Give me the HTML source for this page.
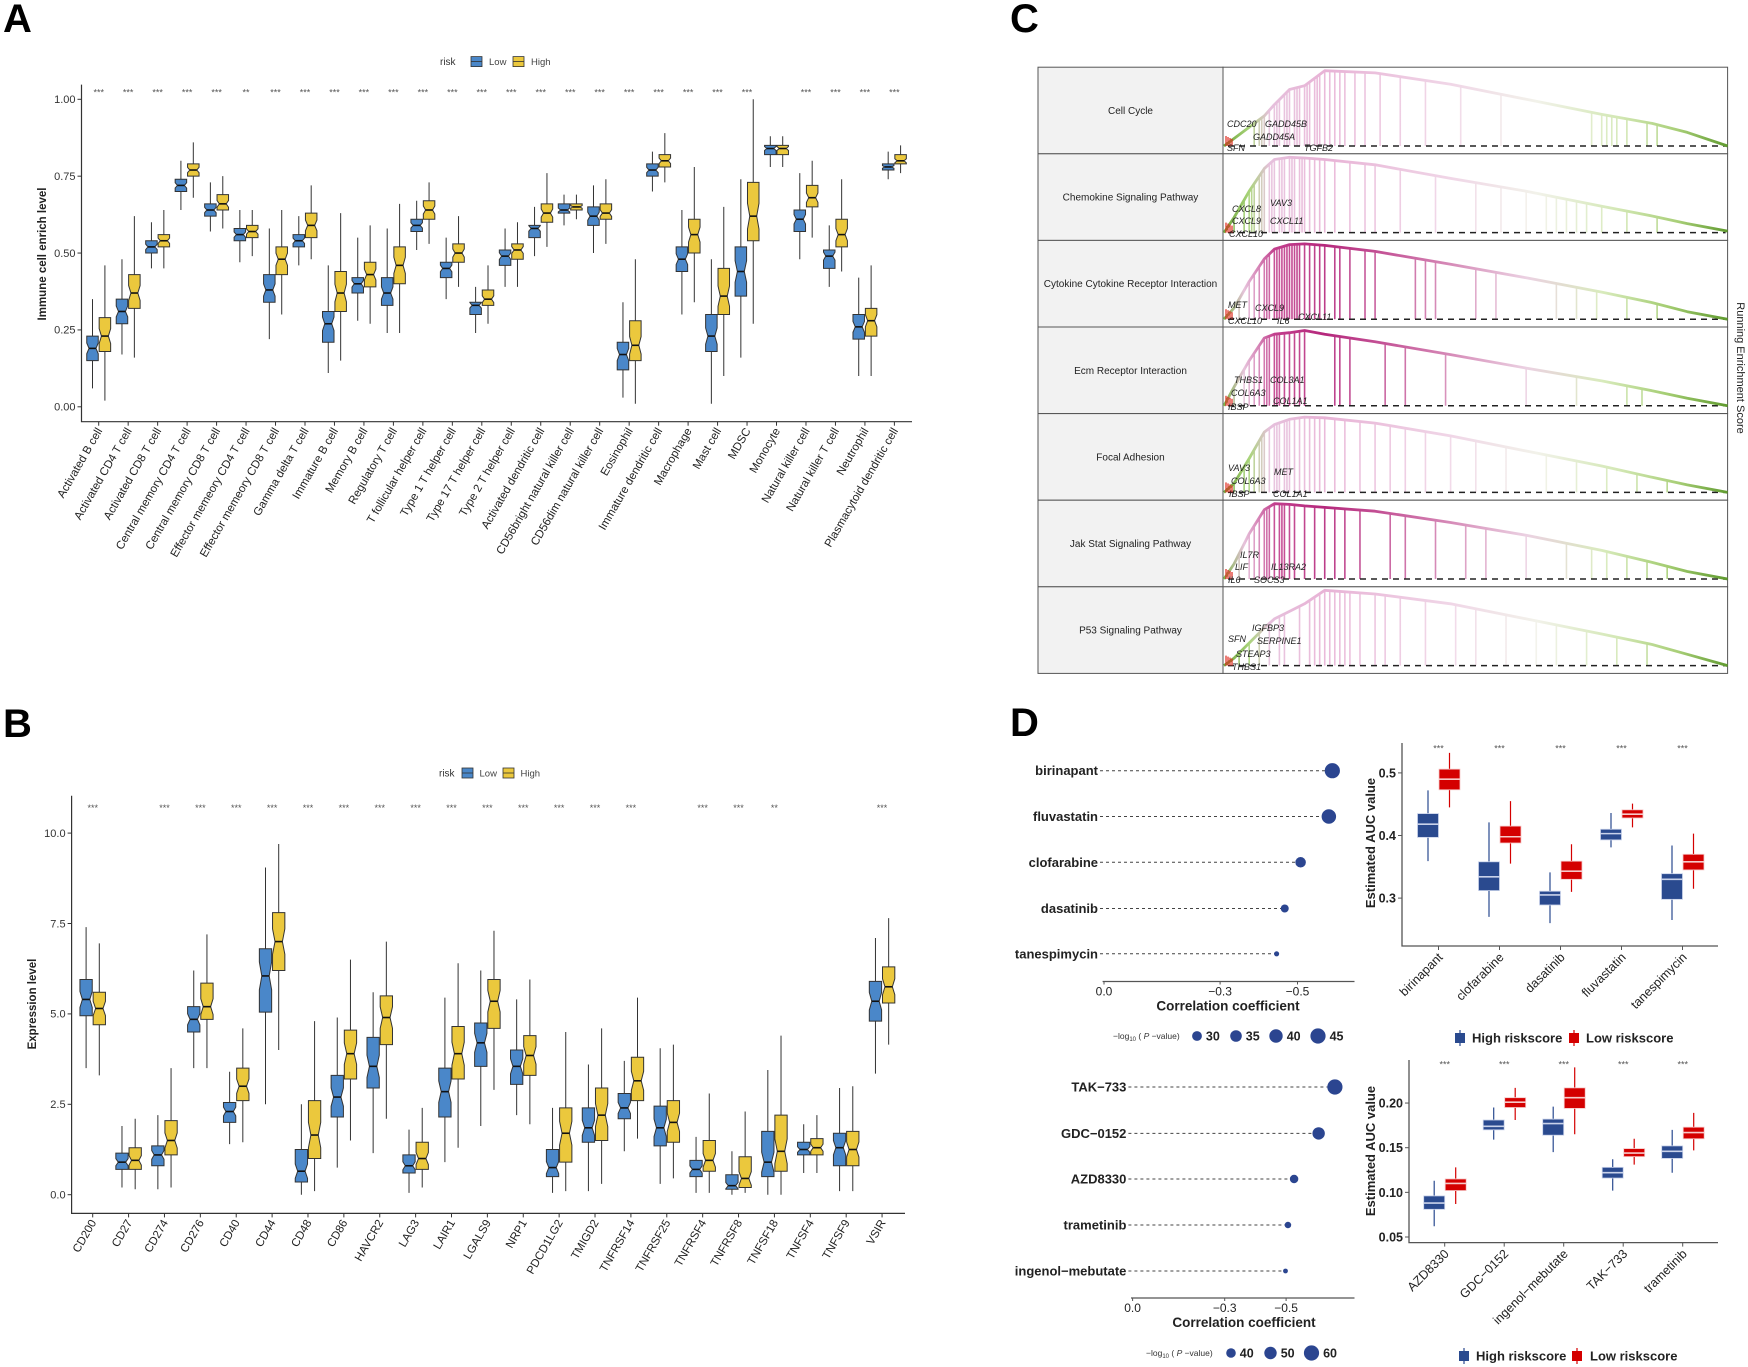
<!DOCTYPE html>
<html><head><meta charset="utf-8"><title>Figure</title>
<style>html,body{margin:0;padding:0;background:#fff}svg{display:block}</style></head>
<body>
<svg id="fig" width="1748" height="1367" viewBox="0 0 1748 1367" xmlns="http://www.w3.org/2000/svg" font-family="Liberation Sans, Arial, sans-serif">
<defs>
<linearGradient id="gLight" gradientUnits="userSpaceOnUse" x1="1224" y1="0" x2="1728" y2="0">
<stop offset="0" stop-color="#6da53a"/><stop offset="0.05" stop-color="#a9d47a"/><stop offset="0.09" stop-color="#e6c0dc"/><stop offset="0.2" stop-color="#e8b3d6"/><stop offset="0.45" stop-color="#f0d6e7"/><stop offset="0.62" stop-color="#f2f2ea"/><stop offset="0.78" stop-color="#d4e8b6"/><stop offset="0.9" stop-color="#a9cf78"/><stop offset="1" stop-color="#5f9a2e"/></linearGradient>
<linearGradient id="gDeep" gradientUnits="userSpaceOnUse" x1="1224" y1="0" x2="1728" y2="0">
<stop offset="0" stop-color="#7cb548"/><stop offset="0.04" stop-color="#e7c3dc"/><stop offset="0.1" stop-color="#c23f8d"/><stop offset="0.2" stop-color="#b5287c"/><stop offset="0.4" stop-color="#cf74aa"/><stop offset="0.6" stop-color="#ebd1e2"/><stop offset="0.75" stop-color="#d9ebbd"/><stop offset="0.88" stop-color="#a4cd72"/><stop offset="1" stop-color="#5f9a2e"/></linearGradient>
</defs>
</svg>
<script>
// ---------- Panel A data ----------
const A_cats = ['Activated B cell','Activated CD4 T cell','Activated CD8 T cell','Central memory CD4 T cell','Central memory CD8 T cell','Effector memeory CD4 T cell','Effector memeory CD8 T cell','Gamma delta T cell','Immature  B cell','Memory B cell','Regulatory T cell','T follicular helper cell','Type 1 T helper cell','Type 17 T helper cell','Type 2 T helper cell','Activated dendritic cell','CD56bright natural killer cell','CD56dim natural killer cell','Eosinophil','Immature dendritic cell','Macrophage','Mast cell','MDSC','Monocyte','Natural killer cell','Natural killer T cell','Neutrophil','Plasmacytoid dendritic cell'];
const A_low = [[0.06,0.15,0.19,0.23,0.35],[0.17,0.27,0.31,0.35,0.48],[0.45,0.50,0.52,0.54,0.60],[0.64,0.70,0.72,0.74,0.80],[0.57,0.62,0.64,0.66,0.73],[0.47,0.54,0.56,0.58,0.64],[0.22,0.34,0.38,0.43,0.58],[0.46,0.52,0.54,0.56,0.62],[0.11,0.21,0.27,0.31,0.46],[0.28,0.37,0.40,0.42,0.55],[0.24,0.33,0.37,0.42,0.58],[0.51,0.57,0.59,0.61,0.67],[0.35,0.42,0.45,0.47,0.55],[0.24,0.30,0.33,0.34,0.39],[0.39,0.46,0.49,0.51,0.58],[0.49,0.55,0.58,0.59,0.65],[0.59,0.63,0.64,0.66,0.69],[0.50,0.59,0.62,0.65,0.72],[0.03,0.12,0.17,0.21,0.34],[0.70,0.75,0.77,0.79,0.83],[0.30,0.44,0.48,0.52,0.64],[0.01,0.18,0.23,0.30,0.48],[0.16,0.36,0.44,0.52,0.74],[0.78,0.82,0.84,0.85,0.88],[0.48,0.57,0.61,0.64,0.76],[0.39,0.45,0.49,0.51,0.59],[0.10,0.22,0.26,0.30,0.42],[0.74,0.77,0.78,0.79,0.83]];
const A_high = [[0.02,0.18,0.23,0.29,0.46],[0.16,0.32,0.37,0.43,0.62],[0.45,0.52,0.54,0.56,0.64],[0.68,0.75,0.77,0.79,0.86],[0.58,0.64,0.66,0.69,0.75],[0.49,0.55,0.57,0.59,0.64],[0.30,0.43,0.48,0.52,0.64],[0.48,0.55,0.59,0.63,0.72],[0.15,0.31,0.37,0.44,0.63],[0.27,0.39,0.43,0.47,0.59],[0.24,0.40,0.46,0.52,0.66],[0.53,0.61,0.64,0.67,0.73],[0.39,0.47,0.50,0.53,0.62],[0.27,0.33,0.35,0.38,0.46],[0.39,0.48,0.51,0.53,0.60],[0.52,0.60,0.63,0.66,0.76],[0.61,0.64,0.65,0.66,0.69],[0.53,0.61,0.63,0.66,0.74],[0.01,0.15,0.20,0.28,0.48],[0.73,0.78,0.80,0.82,0.89],[0.34,0.50,0.56,0.61,0.78],[0.10,0.30,0.36,0.45,0.65],[0.27,0.54,0.62,0.73,1.00],[0.78,0.82,0.84,0.85,0.88],[0.55,0.65,0.68,0.72,0.80],[0.44,0.52,0.56,0.61,0.74],[0.10,0.23,0.28,0.32,0.46],[0.76,0.79,0.80,0.82,0.85]];
const A_sig = ['***','***','***','***','***','**','***','***','***','***','***','***','***','***','***','***','***','***','***','***','***','***','***','','***','***','***','***'];
const A_ticks = [0,0.25,0.5,0.75,1.0];
const A_tickLabels = ['0.00','0.25','0.50','0.75','1.00'];
// ---------- Panel B data ----------
const B_cats = ['CD200','CD27','CD274','CD276','CD40','CD44','CD48','CD86','HAVCR2','LAG3','LAIR1','LGALS9','NRP1','PDCD1LG2','TMIGD2','TNFRSF14','TNFRSF25','TNFRSF4','TNFRSF8','TNFSF18','TNFSF4','TNFSF9','VSIR'];
const B_low = [[3.5,4.95,5.4,5.95,7.4],[0.2,0.7,0.9,1.15,1.9],[0.15,0.8,1.1,1.35,2.2],[3.5,4.5,4.85,5.2,6.2],[1.4,2.0,2.3,2.55,3.4],[2.5,5.05,6.05,6.8,9.05],[0,0.35,0.65,1.25,2.5],[0.75,2.15,2.7,3.3,4.9],[1.15,2.95,3.55,4.35,5.6],[0.05,0.6,0.8,1.1,1.8],[0.9,2.15,2.85,3.5,5.45],[1.9,3.55,4.2,4.75,6.2],[2.2,3.05,3.55,4.0,5.4],[0.05,0.5,0.75,1.25,2.4],[0.1,1.45,1.85,2.4,3.6],[1.2,2.1,2.4,2.8,3.7],[0.3,1.35,1.85,2.45,4.05],[0.05,0.5,0.7,0.95,1.6],[0,0.15,0.25,0.55,1.2],[0,0.5,0.9,1.75,3.45],[0.6,1.1,1.25,1.45,1.95],[0.1,0.8,1.3,1.7,2.95],[3.35,4.8,5.35,5.9,7.1]];
const B_high = [[3.3,4.7,5.15,5.6,6.95],[0.15,0.7,0.95,1.3,2.1],[0.2,1.1,1.5,2.05,3.5],[3.5,4.85,5.2,5.85,7.2],[1.45,2.6,3.0,3.5,4.6],[4.0,6.2,7.0,7.8,9.7],[0.1,1.0,1.65,2.6,4.8],[1.5,3.2,3.9,4.55,6.5],[2.1,4.15,4.9,5.5,7.0],[0.2,0.7,1.0,1.45,2.4],[1.3,3.2,3.9,4.65,6.4],[2.9,4.6,5.35,5.95,7.3],[1.95,3.3,3.85,4.4,5.95],[0.1,0.9,1.7,2.4,4.5],[0.3,1.5,2.2,2.95,4.6],[1.55,2.6,3.15,3.8,5.45],[0.45,1.45,2.0,2.6,4.15],[0.05,0.65,0.95,1.5,2.8],[0.05,0.2,0.45,1.05,2.3],[0,0.65,1.2,2.2,4.4],[0.6,1.1,1.3,1.55,2.2],[0.1,0.8,1.25,1.75,3.0],[4.15,5.3,5.75,6.3,7.65]];
const B_sig = ['***','','***','***','***','***','***','***','***','***','***','***','***','***','***','***','','***','***','**','','','***'];
const B_ticks = [0,2.5,5,7.5,10];
const B_tickLabels = ['0.0','2.5','5.0','7.5','10.0'];
// ---------- Panel C data ----------
const C_paths = ['Cell Cycle','Chemokine Signaling Pathway','Cytokine Cytokine Receptor Interaction','Ecm Receptor Interaction','Focal Adhesion','Jak Stat Signaling Pathway','P53 Signaling Pathway'];
const C_esX = [0,0.02,0.05,0.08,0.1,0.13,0.16,0.2,0.3,0.45,0.6,0.75,0.85,0.92,1.0];
const C_es0 = [0,0.1,0.25,0.4,0.55,0.75,0.8,1.0,0.97,0.82,0.62,0.42,0.3,0.18,0.0];
const C_es1 = [0,0.2,0.55,0.85,0.97,1.0,0.99,0.97,0.9,0.72,0.55,0.35,0.22,0.12,0.02];
const C_es2 = [0,0.15,0.5,0.8,0.93,0.99,1.0,0.98,0.9,0.73,0.55,0.36,0.22,0.1,0.0];
const C_es3 = [0,0.25,0.6,0.9,0.95,0.97,1.0,0.95,0.85,0.68,0.5,0.33,0.2,0.1,0.0];
const C_es4 = [0,0.12,0.45,0.8,0.9,0.97,1.0,0.99,0.92,0.75,0.55,0.35,0.2,0.1,0.0];
const C_es5 = [0,0.2,0.6,0.92,1.0,0.99,0.97,0.95,0.9,0.75,0.58,0.38,0.22,0.1,0.0];
const C_es6 = [0,0.1,0.3,0.5,0.62,0.72,0.82,1.0,0.95,0.82,0.62,0.42,0.28,0.15,0.0];
const C_hits0 = [0.06,0.07,0.075,0.08,0.09,0.1,0.105,0.11,0.12,0.125,0.13,0.14,0.145,0.15,0.16,0.165,0.17,0.18,0.185,0.19,0.2,0.21,0.22,0.23,0.24,0.26,0.28,0.31,0.35,0.4,0.47,0.55,0.73,0.75,0.76,0.77,0.78,0.8,0.84,0.86];
const C_hits1 = [0.02,0.04,0.05,0.055,0.06,0.07,0.075,0.08,0.09,0.095,0.1,0.11,0.115,0.12,0.13,0.135,0.14,0.15,0.155,0.16,0.17,0.18,0.19,0.2,0.22,0.25,0.28,0.3,0.35,0.42,0.5,0.55,0.6,0.64,0.66,0.68,0.7,0.72,0.75,0.8,0.86];
const C_hits2 = [0.03,0.05,0.06,0.07,0.08,0.085,0.09,0.1,0.105,0.11,0.115,0.12,0.125,0.13,0.135,0.14,0.145,0.15,0.16,0.17,0.18,0.19,0.2,0.22,0.23,0.25,0.28,0.3,0.38,0.4,0.42,0.5,0.54,0.66,0.7,0.74,0.8,0.86];
const C_hits3 = [0.02,0.04,0.05,0.06,0.07,0.08,0.085,0.09,0.1,0.105,0.11,0.12,0.13,0.14,0.15,0.16,0.22,0.23,0.25,0.32,0.36,0.44,0.6,0.7,0.8,0.83];
const C_hits4 = [0.02,0.04,0.05,0.06,0.07,0.075,0.08,0.09,0.1,0.105,0.11,0.12,0.125,0.13,0.14,0.15,0.16,0.17,0.18,0.19,0.2,0.22,0.24,0.27,0.3,0.33,0.36,0.4,0.45,0.5,0.56,0.64,0.7,0.76,0.82,0.88];
const C_hits5 = [0.03,0.05,0.06,0.07,0.08,0.085,0.09,0.1,0.11,0.115,0.12,0.13,0.14,0.16,0.18,0.2,0.22,0.24,0.27,0.33,0.36,0.42,0.48,0.52,0.6,0.68,0.73,0.76,0.8,0.84,0.88];
const C_hits6 = [0.03,0.05,0.07,0.09,0.11,0.12,0.15,0.17,0.18,0.19,0.2,0.21,0.22,0.23,0.24,0.25,0.27,0.3,0.32,0.35,0.4,0.46,0.5,0.56,0.62,0.66,0.72,0.78,0.84];
const C_deep = [false,false,true,true,false,true,false];
const C_genes0 = [['CDC20',1227,124],['GADD45B',1265,124],['GADD45A',1253,137],['SFN',1227,148],['TGFB2',1304,148]];
const C_genes1 = [['CXCL8',1232,209],['VAV3',1270,203],['CXCL9',1232,221],['CXCL11',1270,221],['CXCL10',1229,234]];
const C_genes2 = [['MET',1228,305],['CXCL9',1255,308],['CXCL10',1228,321],['IL6',1277,321],['CXCL11',1298,317]];
const C_genes3 = [['THBS1',1234,380],['COL3A1',1270,380],['COL6A3',1231,393],['COL1A1',1273,401],['IBSP',1228,407]];
const C_genes4 = [['VAV3',1228,468],['MET',1274,472],['COL6A3',1231,481],['COL1A1',1273,494],['IBSP',1229,494]];
const C_genes5 = [['IL7R',1240,555],['LIF',1235,567],['IL13RA2',1271,567],['IL6',1228,580],['SOCS3',1254,580]];
const C_genes6 = [['IGFBP3',1252,628],['SFN',1228,639],['SERPINE1',1257,641],['STEAP3',1236,654],['THBS1',1232,667]];
// ---------- Panel D data ----------
const D1_drugs = ['birinapant','fluvastatin','clofarabine','dasatinib','tanespimycin'];
const D1_cor = [-0.590,-0.581,-0.508,-0.467,-0.446];
const D1_logp = [45,43,32,25,17];
const D1_legend = [30,35,40,45];
const D2_drugs = ['TAK\u2212733','GDC\u22120152','AZD8330','trametinib','ingenol\u2212mebutate'];
const D2_cor = [-0.659,-0.606,-0.526,-0.506,-0.498];
const D2_logp = [60,50,36,29,23];
const D2_legend = [40,50,60];
const D3_cats = ['birinapant','clofarabine','dasatinib','fluvastatin','tanespimycin'];
const D3_high = [[0.359,0.397,0.418,0.435,0.472],[0.270,0.312,0.334,0.358,0.421],[0.260,0.289,0.305,0.311,0.341],[0.381,0.393,0.403,0.410,0.436],[0.265,0.298,0.330,0.339,0.384]];
const D3_low = [[0.445,0.473,0.490,0.506,0.532],[0.355,0.388,0.398,0.415,0.455],[0.310,0.330,0.343,0.359,0.386],[0.413,0.428,0.434,0.441,0.451],[0.315,0.345,0.358,0.370,0.403]];
const D3_ticks = [0.3,0.4,0.5];
const D4_cats = ['AZD8330','GDC\u22120152','ingenol\u2212mebutate','TAK\u2212733','trametinib'];
const D4_high = [[0.062,0.081,0.088,0.096,0.113],[0.159,0.170,0.174,0.181,0.195],[0.145,0.164,0.177,0.182,0.196],[0.102,0.116,0.122,0.128,0.137],[0.122,0.138,0.146,0.152,0.170]];
const D4_low = [[0.087,0.102,0.110,0.115,0.128],[0.181,0.195,0.201,0.206,0.217],[0.165,0.194,0.206,0.217,0.240],[0.131,0.140,0.144,0.149,0.160],[0.147,0.160,0.167,0.173,0.189]];
const D4_ticks = [0.05,0.10,0.15,0.20];
const D4_tickLabels = ['0.05','0.10','0.15','0.20'];

const NS='http://www.w3.org/2000/svg';
const svg=document.getElementById('fig');
function mk(tag,attrs,parent,txt){const e=document.createElementNS(NS,tag);for(const k in attrs)e.setAttribute(k,attrs[k]);if(txt!==undefined)e.textContent=txt;(parent||svg).appendChild(e);return e;}
let el;

const letters=[['A',3,32],['B',3,737],['C',1010,32],['D',1010,736]];
for(const L of letters){
  el=mk('text',{x:L[1],y:L[2],'font-size':40,'font-weight':'bold',fill:'#000'},svg,L[0]);
  
  
}

function notchBox(g,cx,w,s,yS,fill,notch){
  const x0=cx-w/2,x1=cx+w/2,q1=yS(s[1]),md=yS(s[2]),q3=yS(s[3]);
  const n=notch?Math.min((q1-q3)*0.22,(q1-q3)/2):0, i=notch?w*0.2:0;
  const wk=mk('path',{d:`M${cx},${yS(s[0])}V${q1}M${cx},${q3}V${yS(s[4])}`,stroke:'#333','stroke-width':1,fill:'none'},g);
  
  
  const d=notch?`M${x0},${q3}H${x1}V${md-n}L${x1-i},${md}L${x1},${md+n}V${q1}H${x0}V${md+n}L${x0+i},${md}L${x0},${md-n}Z`:`M${x0},${q3}H${x1}V${q1}H${x0}Z`;
  const b=mk('path',{d:d,fill:fill,stroke:'#333','stroke-width':1},g);
  
  
  const m=mk('line',{x1:x0+i,x2:x1-i,y1:md,y2:md,stroke:'#111','stroke-width':1.6},g);
  
  
}

function boxPanel(cfg){
  const g=mk('g',{});
  
  
  const lg=mk('g',{},g);
  
  
  el=mk('text',{x:cfg.leg[0],y:cfg.legY+3.5,'font-size':10,fill:'#333'},lg,'risk');
  
  
  const keys=[[cfg.leg[1],'#4a87c9','Low',cfg.leg[2]],[cfg.leg[3],'#ebc83d','High',cfg.leg[4]]];
  for(const k of keys){
    el=mk('rect',{x:k[0],y:cfg.legY-5,width:11,height:10,fill:k[1],stroke:'#333','stroke-width':0.8},lg);
    
    
    mk('line',{x1:k[0],x2:k[0]+11,y1:cfg.legY,y2:cfg.legY,stroke:'#333','stroke-width':0.8},lg);
    el=mk('text',{x:k[3],y:cfg.legY+3.5,'font-size':9.5,fill:'#444'},lg,k[2]);
    
    
  }
  el=mk('path',{d:`M${cfg.ax},${cfg.top}V${cfg.bot}H${cfg.right}`,stroke:'#333','stroke-width':1.2,fill:'none'},g);
  
  
  cfg.ticks.forEach((t,i)=>{
    const y=cfg.yS(t);
    mk('line',{x1:cfg.ax-4,x2:cfg.ax,y1:y,y2:y,stroke:'#333','stroke-width':1},g);
    el=mk('text',{x:cfg.ax-6,y:y+3.8,'font-size':11,fill:'#333','text-anchor':'end'},g,cfg.tickLabels[i]);
    
    
  });
  el=mk('text',{x:0,y:0,'font-size':11.5,'font-weight':'bold',fill:'#222','text-anchor':'middle',transform:`translate(${cfg.ylx},${cfg.yly}) rotate(-90)`},g,cfg.ylabel);
  
  
  cfg.cats.forEach((c,i)=>{
    const cx=cfg.xS(i);
    mk('line',{x1:cx,x2:cx,y1:cfg.bot,y2:cfg.bot+4,stroke:'#333','stroke-width':1},g);
    el=mk('text',{x:0,y:0,'font-size':11.5,fill:'#222','text-anchor':'end',transform:`translate(${cx+4},${cfg.bot+9}) rotate(-60)`},g,c);
    
    
    if(cfg.sig[i]){
      el=mk('text',{x:cx,y:cfg.sigY+2,'font-size':9,fill:'#555','text-anchor':'middle'},g,cfg.sig[i]);
      
      
    }
    const bg=mk('g',{},g);
    
    
    notchBox(bg,cx-cfg.off,cfg.bw,cfg.low[i],cfg.yS,'#4a87c9',true);
    notchBox(bg,cx+cfg.off,cfg.bw,cfg.high[i],cfg.yS,'#ebc83d',true);
  });
}

boxPanel({name:'panel-a-immune-cells',cats:A_cats,low:A_low,high:A_high,sig:A_sig,ticks:A_ticks,tickLabels:A_tickLabels,
  xS:i=>98.7+i*29.47,yS:v=>406.8-v*307.5,ax:81.5,top:84.6,bot:421.7,right:912,sigY:93.7,bw:11.5,off:6.2,
  legY:61.6,leg:[440,471,489,513,531],ylabel:'Immune cell enrich level',ylx:46,yly:254});
boxPanel({name:'panel-b-checkpoints',cats:B_cats,low:B_low,high:B_high,sig:B_sig,ticks:B_ticks,tickLabels:B_tickLabels,
  xS:i=>92.7+i*35.88,yS:v=>1194.7-v*36.16,ax:71.6,top:795.7,bot:1213.4,right:905,sigY:809,bw:12.3,off:6.6,
  legY:773,leg:[439,462,479.5,503,520.5],ylabel:'Expression level',ylx:36,yly:1004});

(function(){
  const g=mk('g',{});
  
  
  const L=1038,R=1727.6,T=67.2,H=86.6,LC=1223,X0=1224,X1=1727.6;
  const esAll=[C_es0,C_es1,C_es2,C_es3,C_es4,C_es5,C_es6];
  const hitsAll=[C_hits0,C_hits1,C_hits2,C_hits3,C_hits4,C_hits5,C_hits6];
  const genesAll=[C_genes0,C_genes1,C_genes2,C_genes3,C_genes4,C_genes5,C_genes6];
  const xS=f=>X0+f*(X1-X0);
  function interp(es,f){for(let k=1;k<C_esX.length;k++){if(f<=C_esX[k]){const t=(f-C_esX[k-1])/(C_esX[k]-C_esX[k-1]);return es[k-1]+t*(es[k]-es[k-1]);}}return es[es.length-1];}
  C_paths.forEach((p,r)=>{
    const top=T+r*H, base=top+0.91*H, yS=v=>base-v*(0.87*H);
    const rg=mk('g',{},g);
    
    
    el=mk('rect',{x:L,y:top,width:LC-L,height:H,fill:'#f2f2f2',stroke:'#555','stroke-width':1},rg);
    
    
    el=mk('rect',{x:LC,y:top,width:R-LC,height:H,fill:'#fff',stroke:'#555','stroke-width':1},rg);
    
    
    el=mk('text',{x:(L+LC)/2,y:top+H/2+3.5,'font-size':10,fill:'#222','text-anchor':'middle'},rg,p);
    
    
    const grad=C_deep[r]?'url(#gDeep)':'url(#gLight)';
    const es=esAll[r];
    hitsAll[r].forEach(f=>{
      const x=xS(f);
      el=mk('line',{x1:x,x2:x,y1:base,y2:yS(interp(es,f)),stroke:grad,'stroke-width':1.6,'stroke-opacity':0.9},rg);
      
      
    });
    el=mk('line',{x1:X0+4,x2:X1-2,y1:base,y2:base,stroke:'#222','stroke-width':1.5,'stroke-dasharray':'6,5'},rg);
    
    
    let d='';
    C_esX.forEach((f,k)=>{d+=(k?'L':'M')+xS(f).toFixed(1)+','+yS(es[k]).toFixed(1);});
    el=mk('path',{d:d,fill:'none',stroke:grad,'stroke-width':2.8,'stroke-linejoin':'round'},rg);
    
    
    for(let k=0;k<4;k++){
      mk('line',{x1:X0+2+k*2,x2:X0+2+k*2,y1:base,y2:base-10+k,stroke:'#e0261b','stroke-width':1.2},rg);
    }
    genesAll[r].forEach(gn=>{
      el=mk('text',{x:gn[1],y:gn[2]+3,'font-size':9,'font-style':'italic',fill:'#222'},rg,gn[0]);
      
      
    });
  });
  el=mk('text',{x:0,y:0,'font-size':11,fill:'#222','text-anchor':'middle',transform:'translate(1737,368) rotate(90)'},g,'Running Enrichment Score');
  
  
})();

function lollipop(cfg){
  const g=mk('g',{});
  
  
  const xS=v=>cfg.x0-v*cfg.k, rS=p=>Math.max(2.2,cfg.r0+(p-cfg.p0)*cfg.rk);
  cfg.drugs.forEach((d,i)=>{
    const y=cfg.ys[i];
    el=mk('text',{x:cfg.lx,y:y+4.5,'font-size':13,'font-weight':'bold',fill:'#222','text-anchor':'end'},g,d);
    
    
    el=mk('line',{x1:cfg.lx+2,x2:xS(cfg.cor[i]),y1:y,y2:y,stroke:'#444','stroke-width':1,'stroke-dasharray':'3,3'},g);
    
    
    el=mk('circle',{cx:xS(cfg.cor[i]),cy:y,r:rS(cfg.logp[i]),fill:'#2b4590'},g);
    
    
  });
  el=mk('line',{x1:cfg.axL,x2:1354.5,y1:cfg.axY,y2:cfg.axY,stroke:'#555','stroke-width':1.2},g);
  
  
  [[0,'0.0'],[0.3,'\u22120.3'],[0.5,'\u22120.5']].forEach(t=>{
    const x=xS(-t[0]);
    mk('line',{x1:x,x2:x,y1:cfg.axY,y2:cfg.axY+3,stroke:'#555'},g);
    el=mk('text',{x:x,y:cfg.axY+14,'font-size':12,fill:'#222','text-anchor':'middle'},g,t[1]);
    
    
  });
  el=mk('text',{x:cfg.titleX,y:cfg.axY+29,'font-size':13.5,'font-weight':'bold',fill:'#222','text-anchor':'middle'},g,'Correlation coefficient');
  
  
  const lgd=mk('g',{},g);
  
  
  const t=mk('text',{x:cfg.legTx,y:cfg.legY+3,'font-size':8.5,fill:'#333'},lgd);
  t.innerHTML='\u2212log<tspan font-size="6" dy="2">10</tspan><tspan dy="-2"> ( </tspan><tspan font-style="italic">P</tspan> \u2212value)';
  
  
  cfg.legend.forEach((p,i)=>{
    el=mk('circle',{cx:cfg.legXs[i],cy:cfg.legY,r:rS(p),fill:'#2b4590'},lgd);
    
    
    el=mk('text',{x:cfg.legXs[i]+rS(p)+4,y:cfg.legY+4.5,'font-size':12.5,'font-weight':'bold',fill:'#222'},lgd,String(p));
    
    
  });
}
lollipop({name:'panel-d-lollipop-top',drugs:D1_drugs,cor:D1_cor,logp:D1_logp,legend:D1_legend,ys:[770.7,816.5,862.3,908.5,953.8],
  lx:1098,x0:1104,k:387,r0:4.9,p0:30,rk:0.18,axL:1102.6,axY:981.5,titleX:1228,legTx:1113,legY:1036,legXs:[1197,1236,1276,1318]});
lollipop({name:'panel-d-lollipop-bottom',drugs:D2_drugs,cor:D2_cor,logp:D2_logp,legend:D2_legend,ys:[1087,1133.4,1179,1225,1271],
  lx:1126.4,x0:1132.6,k:307,r0:4.8,p0:40,rk:0.14,axL:1131,axY:1298,titleX:1244,legTx:1146,legY:1353,legXs:[1231,1270.5,1311.5]});

function aucPanel(cfg){
  const g=mk('g',{});
  
  
  el=mk('path',{d:`M${cfg.ax},${cfg.top}V${cfg.bot}H${cfg.right}`,stroke:'#555','stroke-width':1.3,fill:'none'},g);
  
  
  cfg.ticks.forEach((t,i)=>{
    const y=cfg.yS(t);
    mk('line',{x1:cfg.ax-4,x2:cfg.ax,y1:y,y2:y,stroke:'#555'},g);
    el=mk('text',{x:cfg.ax-6,y:y+4.5,'font-size':12.5,'font-weight':'bold',fill:'#222','text-anchor':'end'},g,cfg.tickLabels[i]);
    
    
  });
  el=mk('text',{x:0,y:0,'font-size':13,'font-weight':'bold',fill:'#222','text-anchor':'middle',transform:`translate(${1375},${cfg.yly}) rotate(-90)`},g,'Estimated AUC value');
  
  
  cfg.cats.forEach((c,i)=>{
    const cx=cfg.xS(i);
    mk('line',{x1:cx,x2:cx,y1:cfg.bot,y2:cfg.bot+4,stroke:'#555'},g);
    el=mk('text',{x:0,y:0,'font-size':12.5,fill:'#222','text-anchor':'end',transform:`translate(${cx+5},${cfg.bot+12}) rotate(-45)`},g,c);
    
    
    el=mk('text',{x:cx,y:cfg.sigY+2,'font-size':9,fill:'#555','text-anchor':'middle'},g,'***');
    
    
    [[cfg.high[i],-10.5,'#2a4a8f','#c9d2ea'],[cfg.low[i],11,'#d40000','#f6c9c9']].forEach(b=>{
      const s=b[0],bx=cx+b[1],w=21;
      el=mk('path',{d:`M${bx},${cfg.yS(s[0])}V${cfg.yS(s[1])}M${bx},${cfg.yS(s[3])}V${cfg.yS(s[4])}`,stroke:b[2],'stroke-width':1.2},g);
      
      
      el=mk('rect',{x:bx-w/2,y:cfg.yS(s[3]),width:w,height:cfg.yS(s[1])-cfg.yS(s[3]),fill:b[2],stroke:b[3],'stroke-width':0.8},g);
      
      
      el=mk('line',{x1:bx-w/2,x2:bx+w/2,y1:cfg.yS(s[2]),y2:cfg.yS(s[2]),stroke:b[3],'stroke-width':1.6},g);
      
      
    });
  });
  const lg=mk('g',{},g);
  
  
  [[cfg.legX[0],'#2a4a8f','High riskscore',cfg.legX[1]],[cfg.legX[2],'#d40000','Low riskscore',cfg.legX[3]]].forEach(k=>{
    el=mk('rect',{x:k[0]-5,y:cfg.legY-5,width:10,height:10,fill:k[1]},lg);
    
    
    mk('line',{x1:k[0],x2:k[0],y1:cfg.legY-8,y2:cfg.legY+8,stroke:k[1],'stroke-width':1.2},lg);
    el=mk('text',{x:k[3],y:cfg.legY+4.5,'font-size':13,'font-weight':'bold',fill:'#222'},lg,k[2]);
    
    
  });
}
aucPanel({name:'panel-d-auc-top',cats:D3_cats,high:D3_high,low:D3_low,ticks:D3_ticks,tickLabels:['0.3','0.4','0.5'],
  xS:i=>1438.5+i*61,yS:v=>898.1-(v-0.3)*626,ax:1402,top:743,bot:946,right:1718,sigY:749.6,yly:843,legY:1038,legX:[1460,1472,1574,1586]});
aucPanel({name:'panel-d-auc-bottom',cats:D4_cats,high:D4_high,low:D4_low,ticks:D4_ticks,tickLabels:D4_tickLabels,
  xS:i=>1444.7+i*59.5,yS:v=>1237-(v-0.05)*893,ax:1409,top:1060,bot:1242.6,right:1718,sigY:1065.6,yly:1151,legY:1356,legX:[1464,1476,1577,1590]});
</script>
</body></html>
